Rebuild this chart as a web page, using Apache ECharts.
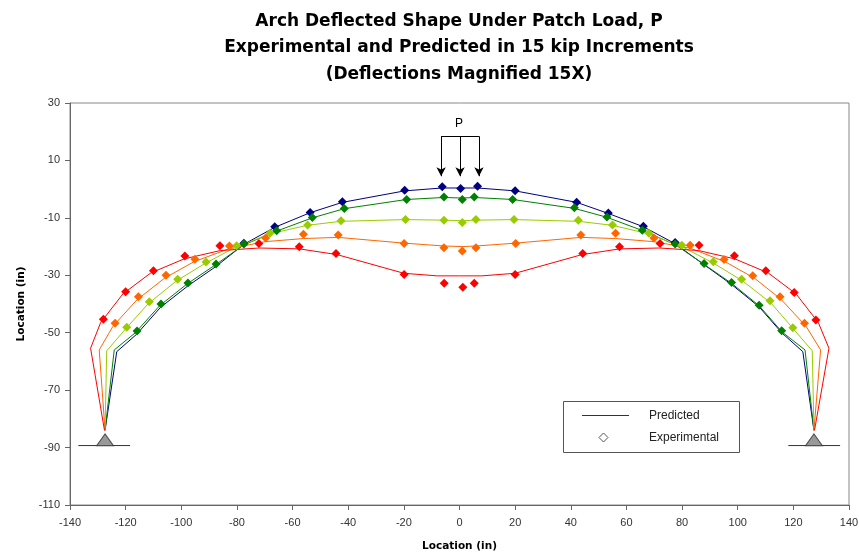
<!DOCTYPE html>
<html>
<head>
<meta charset="utf-8">
<title>Arch Deflected Shape</title>
<script src="https://cdn.jsdelivr.net/npm/echarts@6/dist/echarts.min.js"></script>
<style>
  html, body { margin: 0; padding: 0; background: #fff; }
  #main { width: 859px; height: 554px; }
</style>
</head>
<body>
<div id="main"></div>
<script>
// predicted shapes, [x, y] in inches
var predBlue = [[-127.4,-84],[-123.2,-56.6],[-116,-50.5],[-107.5,-41.2],[-97.5,-33.6],[-87.5,-26.9],[-77.5,-19.2],[-66.4,-13.3],[-53.7,-8.2],[-42.1,-4.6],[-19.7,-0.6],[-6.2,0.4],[0.4,0.4],[6.5,0.4],[20,-0.6],[42.1,-4.6],[53.3,-8.4],[66.1,-13.1],[77.5,-19],[87.9,-26.3],[97.8,-33.2],[107.7,-41],[115.8,-50],[123.4,-56.6],[127.4,-84]];
var predDkGreen = [[-127.4,-84],[-124.1,-56],[-116.5,-50],[-107.8,-40.6],[-97.9,-33],[-87.8,-26.4],[-77.5,-19.4],[-65.7,-14.6],[-52.9,-10],[-41.4,-6.8],[-19,-3.6],[-5.6,-2.9],[1,-3.1],[5.3,-2.9],[19.1,-3.6],[41.3,-6.7],[53,-9.8],[65.7,-14.4],[77.5,-19.3],[87.9,-26.2],[97.8,-32.8],[107.7,-40.6],[116,-49.8],[124.2,-56],[127.4,-84]];
var predLtGreen = [[-127.4,-84],[-126.8,-56.3],[-120.3,-49],[-112,-40],[-101.8,-32],[-91.5,-25.9],[-81,-20.5],[-68.3,-15.6],[-54.8,-12.6],[-42.6,-11.2],[-19.4,-10.6],[-5.6,-10.8],[1,-11],[5.9,-10.8],[19.6,-10.6],[42.7,-11.2],[55,-12.6],[68.1,-15.6],[80.5,-20.3],[91.5,-25.9],[101.8,-32],[112,-39.7],[120.3,-49],[126.8,-56.3],[127.4,-84]];
var predOrange = [[-127.4,-84],[-129.5,-56],[-124.6,-47.8],[-116,-38.6],[-106,-31],[-95.5,-25.3],[-83,-20.8],[-70,-18.3],[-56,-17.2],[-43.6,-16.8],[-19.9,-18.8],[-5.6,-19.8],[1,-20],[5.9,-19.8],[20.2,-18.8],[43.6,-16.8],[56,-17.2],[70,-18.3],[83,-20.6],[95.5,-25.3],[106,-31],[115.6,-38.4],[124.6,-47.8],[129.8,-56],[127.4,-84]];
var predRed = [[-127.6,-84],[-132.6,-55.4],[-129,-46.5],[-121,-36.5],[-111,-29.2],[-99,-24.3],[-86,-21.4],[-72,-20.5],[-57.6,-20.8],[-44,-22.8],[-20,-29.3],[-8,-30.2],[0,-30.2],[8,-30.2],[20,-29.3],[44,-22.8],[57.6,-20.8],[72,-20.5],[86,-21.4],[99,-24.3],[111,-29.2],[121,-36.5],[129,-46.5],[132.8,-55.4],[127.6,-84]];

// experimental readings
var expBlue = [[-77.5,-18.8],[-66.4,-13.1],[-53.7,-8.1],[-42.1,-4.4],[-19.7,-0.4],[-6.2,0.8],[0.4,0.2],[6.5,1.0],[20,-0.6],[42.1,-4.6],[53.5,-8.3],[66.1,-12.9],[77.5,-18.6]];
var expDkGreen = [[-115.9,-49.4],[-107.3,-40],[-97.6,-32.7],[-87.5,-26.1],[-77.5,-19.1],[-65.7,-14.5],[-52.9,-9.9],[-41.4,-6.7],[-19,-3.6],[-5.6,-2.7],[1,-3.6],[5.3,-2.7],[19.1,-3.6],[41.3,-6.5],[53,-9.7],[65.7,-14.3],[77.5,-19.1],[87.9,-25.9],[97.8,-32.5],[107.7,-40.4],[115.8,-49.3]];
var expLtGreen = [[-119.6,-48.1],[-111.5,-39.2],[-101.3,-31.4],[-91.1,-25.4],[-80.1,-19.7],[-68.1,-15.4],[-54.6,-12.5],[-42.6,-11],[-19.4,-10.6],[-5.6,-10.8],[1,-11.6],[5.9,-10.6],[19.6,-10.6],[42.7,-10.8],[55,-12.5],[68.1,-15.4],[79.9,-19.5],[91.2,-25.3],[101.4,-31.4],[111.6,-38.9],[119.8,-48.3]];
var expOrange = [[-123.8,-46.7],[-115.4,-37.5],[-105.5,-30],[-95.1,-24.4],[-82.7,-19.8],[-69.7,-17],[-56.1,-15.7],[-43.6,-16],[-19.9,-18.9],[-5.6,-20.4],[1,-21.5],[5.9,-20.4],[20.2,-18.9],[43.6,-16],[56.1,-15.4],[69.9,-17],[82.9,-19.5],[95.1,-24.5],[105.4,-30.2],[115.2,-37.5],[124,-46.7]];
var expRed = [[-128,-45.3],[-120,-35.7],[-110,-28.4],[-98.7,-23.3],[-86.1,-19.7],[-72.1,-18.9],[-57.6,-20.1],[-44.4,-22.4],[-19.9,-29.7],[-5.5,-32.8],[1.2,-34.2],[5.3,-32.8],[20,-29.7],[44.3,-22.4],[57.5,-20.1],[72.1,-18.9],[86.1,-19.5],[98.8,-23.2],[110.1,-28.4],[120.3,-36],[128.1,-45.6]];

// supports and load
var supports = [[-127.4,-87.3],[127.4,-87.3]];
var groundLeft = [[-137,-89.3],[-118.4,-89.3]];
var groundRight = [[118.2,-89.3],[136.8,-89.3]];
var loadX = [-6.6, 0.2, 7.0];
var loadTop = 18.4, loadTip = 4.5;

var colors = ['#000080', '#008000', '#99cc00', '#ff6600', '#ff0000'];
var preds = [predBlue, predDkGreen, predLtGreen, predOrange, predRed];
var exps = [expBlue, expDkGreen, expLtGreen, expOrange, expRed];

var font = "'Liberation Sans', Arial, sans-serif";
var wide = "'DejaVu Sans', 'Liberation Sans', sans-serif";
var series = [];

preds.forEach(function (d, i) {
    series.push({
        type: 'line', data: d, showSymbol: false, silent: true,
        lineStyle: { color: colors[i], width: 1 }, z: 2
    });
});
exps.forEach(function (d, i) {
    series.push({
        type: 'scatter', data: d, symbol: 'diamond', symbolSize: 9,
        itemStyle: { color: colors[i], opacity: 1 }, z: 3
    });
});

series.push({ type: 'line', data: groundLeft, showSymbol: false, lineStyle: { color: '#333', width: 1 } });
series.push({ type: 'line', data: groundRight, showSymbol: false, lineStyle: { color: '#333', width: 1 } });
series.push({
    type: 'scatter', data: supports, symbol: 'triangle', symbolSize: [17, 12],
    itemStyle: { color: '#808080', borderColor: '#333', borderWidth: 1 }, z: 4
});

// load frame
var loadLines = loadX.map(function (x) {
    return [{ coord: [x, loadTop], symbol: 'none' }, { coord: [x, loadTip], symbol: 'arrow' }];
});
loadLines.push([{ coord: [loadX[0], loadTop], symbol: 'none' }, { coord: [loadX[2], loadTop], symbol: 'none' }]);
series.push({
    type: 'line', data: [],
    markLine: {
        silent: true, symbolSize: [7, 9], animation: false,
        label: { show: false },
        lineStyle: { color: '#000', width: 1, type: 'solid' },
        data: loadLines
    },
    markPoint: {
        symbol: 'circle', symbolSize: 1, itemStyle: { color: 'transparent' },
        label: { show: true, formatter: 'P', color: '#000', fontFamily: font, fontSize: 12, position: 'inside' },
        data: [{ coord: [-0.2, 22.8] }]
    }
});

var option = {
    animation: false,
    backgroundColor: '#fff',
    title: {
        text: 'Arch Deflected Shape Under Patch Load, P\nExperimental and Predicted in 15 kip Increments\n(Deflections Magnified 15X)',
        left: 454, top: 3, textAlign: 'center',
        textStyle: { fontFamily: wide, fontSize: 17, fontWeight: 'bold', color: '#000', lineHeight: 26.5 }
    },
    grid: { left: 70, right: 10, top: 103, bottom: 49, outerBoundsMode: 'none',
            show: true, borderColor: '#888', borderWidth: 1 },
    xAxis: {
        type: 'value', min: -140, max: 140, interval: 20,
        name: 'Location (in)', nameLocation: 'middle', nameGap: 36,
        nameTextStyle: { fontFamily: wide, fontSize: 10.5, fontWeight: 'bold', color: '#000' },
        axisLine: { onZero: false, lineStyle: { color: '#666' } },
        axisTick: { inside: false, length: 5, lineStyle: { color: '#666' } },
        axisLabel: { fontFamily: font, fontSize: 11, color: '#333', margin: 12 },
        splitLine: { show: false }
    },
    yAxis: {
        type: 'value', min: -110, max: 30, interval: 20,
        name: 'Location (in)', nameLocation: 'middle', nameGap: 43,
        nameTextStyle: { fontFamily: wide, fontSize: 10.5, fontWeight: 'bold', color: '#000' },
        axisLine: { show: true, onZero: false, lineStyle: { color: '#666' } },
        axisTick: { show: true, inside: false, length: 5, lineStyle: { color: '#666' } },
        axisLabel: { fontFamily: font, fontSize: 11, color: '#333', margin: 10 },
        splitLine: { show: false }
    },
    graphic: [
        { type: 'rect', shape: { x: 563.5, y: 401.5, width: 176, height: 51 },
          style: { fill: '#fff', stroke: '#555', lineWidth: 1 }, z: 10 },
        { type: 'line', shape: { x1: 582, y1: 415.5, x2: 629, y2: 415.5 },
          style: { stroke: '#333', lineWidth: 1 }, z: 11 },
        { type: 'polygon', shape: { points: [[603.5, 433], [608, 437.5], [603.5, 442], [599, 437.5]] },
          style: { fill: '#fff', stroke: '#555', lineWidth: 1 }, z: 11 },
        { type: 'text', x: 649, y: 415.5, z: 11,
          style: { text: 'Predicted', font: '12px ' + font, fill: '#222', verticalAlign: 'middle' } },
        { type: 'text', x: 649, y: 437.5, z: 11,
          style: { text: 'Experimental', font: '12px ' + font, fill: '#222', verticalAlign: 'middle' } }
    ],
    series: series
};

var myChart = echarts.init(document.getElementById('main'));
myChart.setOption(option);
</script>
</body>
</html>
